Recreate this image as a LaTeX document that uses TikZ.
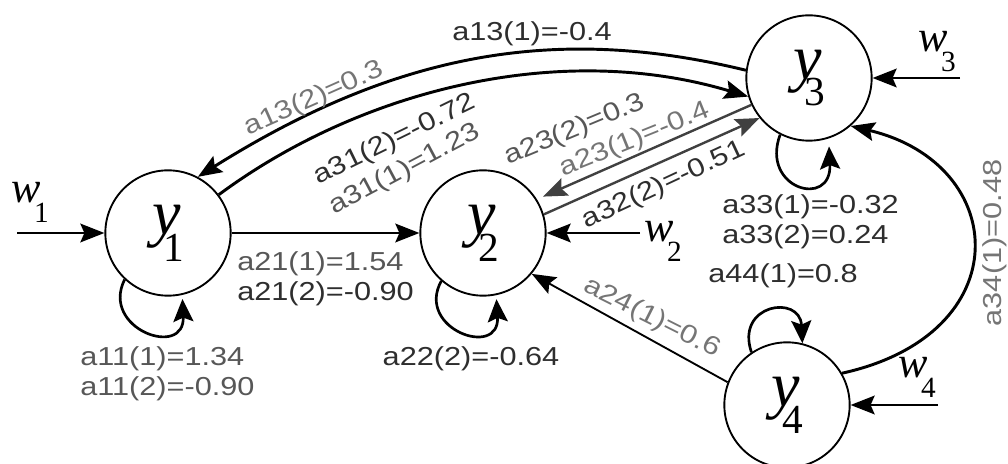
\documentclass[tikz,border=0pt]{standalone}
\usepackage{fontspec}
\usetikzlibrary{arrows.meta}
\newfontfamily\lblfont[FakeStretch=1.18]{Liberation Sans}
\newfontfamily\varfont{Liberation Serif}
\definecolor{lbldark}{gray}{0.18}
\definecolor{lblgray}{gray}{0.34}
\definecolor{lbllight}{gray}{0.46}
\newcommand{\ylab}[1]{{\varfont\itshape\fontsize{48}{48}\selectfont y}\kern-13pt\raisebox{-20pt}{\varfont\fontsize{31}{31}\selectfont #1}}
\newcommand{\wlab}[1]{{\varfont\itshape\fontsize{33}{33}\selectfont w}\kern-5pt\raisebox{-15pt}{\varfont\fontsize{22}{22}\selectfont #1}}

\begin{document}
\begin{tikzpicture}[x=0.75pt, y=0.75pt,
    state/.style={draw, circle, line width=1.4pt, minimum size=94pt, inner sep=0pt},
    link/.style={line width=1.8pt, -{Stealth[length=18pt,width=14pt,inset=3pt]}},
    selfloop/.style={line width=2pt, -{Stealth[length=17pt,width=15pt,inset=3pt]}},
    coef/.style={font=\lblfont\fontsize{19.5}{22.5}\selectfont, inner sep=0pt},
    ]
    \useasboundingbox (0,0) rectangle (1008,464);

    % Vertices
    \node[state] (y1) at (168,231) {\ylab{1}};
    \node[state] (y2) at (483,231) {\ylab{2}};
    \node[state] (y3) at (809,386) {\ylab{3}};
    \node[state] (y4) at (787,59) {\ylab{4}};

    % Inputs
    \node[inner sep=0pt] (w1) at (30,262) {\wlab{1}};
    \node[inner sep=0pt] (w2) at (663,223) {\wlab{2}};
    \node[inner sep=0pt] (w3) at (937,412) {\wlab{3}};
    \node[inner sep=0pt] (w4) at (917,87) {\wlab{4}};
    \coordinate (w1in) at (17,231);
    \coordinate (w2in) at (640,231);
    \coordinate (w3in) at (960,386);
    \coordinate (w4in) at (938,59);
    \draw[link] (w1in) -- (y1);
    \draw[link] (w2in) -- (y2);
    \draw[link] (w3in) -- (y3);
    \draw[link] (w4in) -- (y4);

    % Links between vertices
    \draw[link, line width=2.2pt] (y3.173) .. controls (560,439) and (400,414) .. (y1.62);
    \draw[link, line width=2.2pt] (y1.37) .. controls (360,374) and (560,424) .. (y3.197);
    \draw[link] (y1) -- (y2);
    \draw[link, black!75, shorten >=5pt] (y3.205) -- (y2.32);
    \draw[link, black!75] (y2.17) -- (y3.219);
    \draw[link, line width=1.4pt] (y4.159) -- (y2.320);
    \draw[link, line width=2.2pt] (y4.30) .. controls (1020,130) and (1010,300) .. (y3.311);

    % Self loops
    \draw[selfloop, shorten >=3pt] (y1.227) .. controls (100,135) and (185,105) .. (y1.283);
    \draw[selfloop, shorten >=3pt] (y2.229) .. controls (415,135) and (500,105) .. (y2.282);
    \draw[selfloop, shorten >=6pt] (y3.243) .. controls (760,275) and (832,255) .. (y3.288);
    \draw[selfloop] (y4.124) .. controls (735,160) and (800,170) .. (y4.76);

    % Coefficients
    \node[coef, lbldark] (c13a) at (532,430) {a13(1)=-0.4};
    \node[coef, lbllight, rotate=24] (c13b) at (314,365) {a13(2)=0.3};
    \node[coef, lbldark, rotate=26] (c31b) at (395,324) {a31(2)=-0.72};
    \node[coef, lblgray, rotate=28] (c31a) at (405,294) {a31(1)=1.23};
    \node[coef, lblgray, rotate=22.6] (c23b) at (575,334) {a23(2)=0.3};
    \node[coef, lbllight, rotate=22] (c23a) at (635,324) {a23(1)=-0.4};
    \node[coef, lbldark, rotate=25] (c32b) at (664,279) {a32(2)=-0.51};
    \node[coef, anchor=west, align=left] (c21) at (237,185)
        {{\color{lblgray}a21(1)=1.54}\\{\color{lbldark}a21(2)=-0.90}};
    \node[coef, anchor=west, align=left, lblgray] (c11) at (80,90)
        {a11(1)=1.34\\a11(2)=-0.90};
    \node[coef, lbldark] (c22) at (471,105) {a22(2)=-0.64};
    \node[coef, anchor=west, align=left, lbldark] (c33) at (722,242)
        {a33(1)=-0.32\\a33(2)=0.24};
    \node[coef, lbldark] (c44) at (783,188) {a44(1)=0.8};
    \node[coef, lbllight, rotate=-26.7] (c24) at (652,146) {a24(1)=0.6};
    \node[coef, lbllight, rotate=90] (c34) at (995,221) {a34(1)=0.48};
\end{tikzpicture}
\end{document}
